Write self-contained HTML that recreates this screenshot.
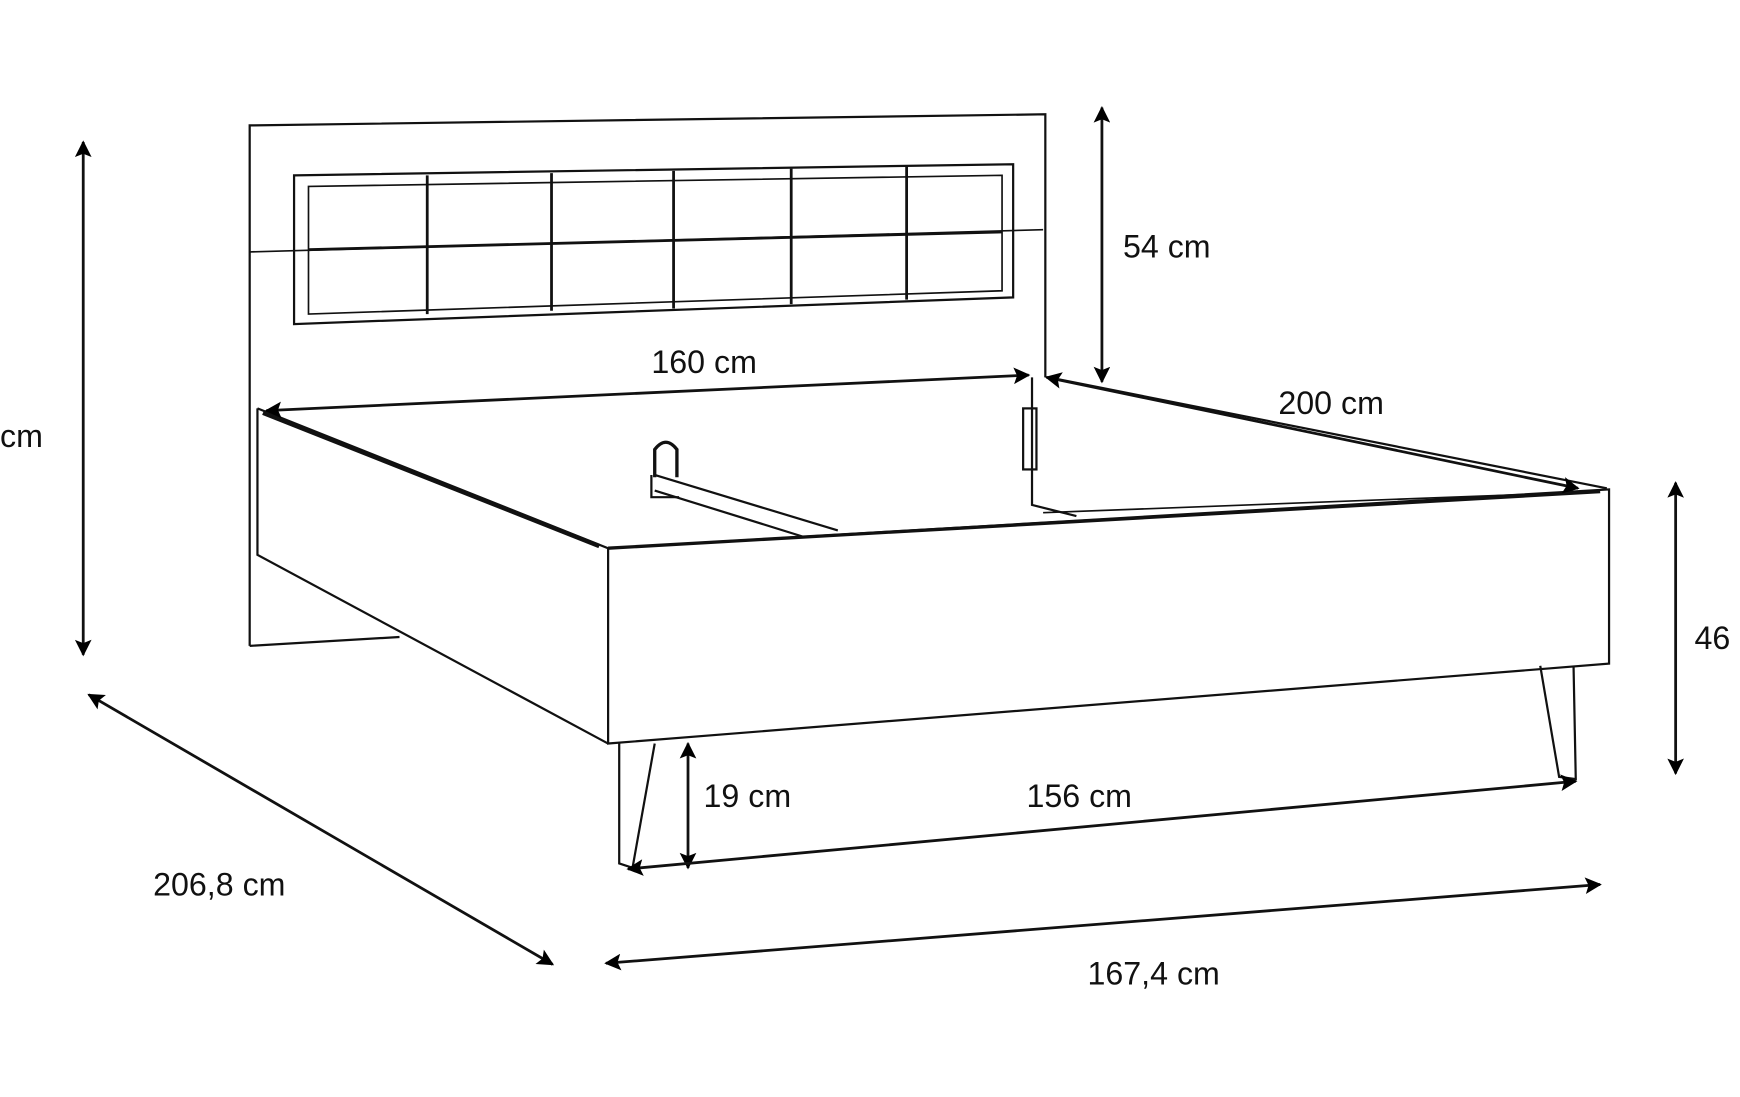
<!DOCTYPE html>
<html><head><meta charset="utf-8"><style>html,body{margin:0;padding:0;background:#fff}svg{display:block}</style></head>
<body>
<svg width="1740" height="1097" viewBox="0 0 1568 988.5" preserveAspectRatio="none" xmlns="http://www.w3.org/2000/svg">
<defs>
<marker id="b" viewBox="0 0 10 10" refX="9" refY="5" markerWidth="26" markerHeight="15" orient="auto-start-reverse" markerUnits="userSpaceOnUse"><path d="M0,0 L10,5 L0,10 L2,5 z" fill="#000"/></marker>
</defs>
<g fill="none" stroke="#111" stroke-width="2">
<path d="M225,582 L225,113 L942,103 L942,340"/>
<path d="M225,582 L360,574"/>
<path d="M265,158 L913,148 L913,268 L265,292 Z"/>
<path d="M278,168 L903,158 L903,262 L278,283 Z" stroke-width="1.5"/>
<path d="M225,227 L940,207" stroke-width="1.5"/>
<path d="M278,225 L903,209" stroke-width="2.5"/>
<path d="M385,158 L385,283 M497,156 L497,280 M607,154 L607,278 M713,152 L713,274 M817,150 L817,270" stroke-width="2.5"/>
<path d="M232,368 L548,494 L1450,441 L1450,598 L548,670 L548,494"/>
<path d="M232,368 L232,500 L548,670"/>
<path d="M237,372 L540,492" stroke-width="4"/>
<path d="M548,494 L1442,443" stroke-width="3"/>
<path d="M930,340 L930,455 L970,465"/>
<path d="M945,340 L1448,440"/>
<path d="M940,462 L1440,443" stroke-width="1.5"/>
<path d="M590,428 L755,478 M590,442 L725,484" stroke-width="2"/>
<path d="M587,428 L587,448 L612,448" />
<path d="M590,430 L590,405 Q600,392 610,405 L610,430" stroke-width="3"/>
<rect x="922" y="368" width="12" height="55" stroke-width="2"/>
<path d="M558,670 L558,778 L570,782 L590,670"/>
<path d="M1388,600 L1405,700 L1420,702 L1418,600"/>
</g>
<g stroke="#111" stroke-width="2.5" fill="none">
<line x1="75" y1="128" x2="75" y2="590" marker-start="url(#b)" marker-end="url(#b)"/>
<line x1="993" y1="97" x2="993" y2="344" marker-start="url(#b)" marker-end="url(#b)"/>
<line x1="240" y1="370" x2="927" y2="338" marker-start="url(#b)" marker-end="url(#b)"/>
<line x1="943" y1="340" x2="1422" y2="440" marker-start="url(#b)" marker-end="url(#b)"/>
<line x1="1510" y1="435" x2="1510" y2="697" marker-start="url(#b)" marker-end="url(#b)"/>
<line x1="620" y1="670" x2="620" y2="782" marker-start="url(#b)" marker-end="url(#b)"/>
<line x1="566" y1="783" x2="1420" y2="704" marker-start="url(#b)" marker-end="url(#b)"/>
<line x1="80" y1="626" x2="498" y2="869" marker-start="url(#b)" marker-end="url(#b)"/>
<line x1="546" y1="868" x2="1442" y2="797" marker-start="url(#b)" marker-end="url(#b)"/>
</g>
<g font-family="Liberation Sans, sans-serif" font-size="29" fill="#111">
<text x="0" y="403">cm</text>
<text x="1012" y="232">54 cm</text>
<text x="587" y="336">160 cm</text>
<text x="1152" y="373">200 cm</text>
<text x="1527" y="585">46</text>
<text x="634" y="727">19 cm</text>
<text x="925" y="727">156 cm</text>
<text x="138" y="807">206,8 cm</text>
<text x="980" y="887">167,4 cm</text>
</g>
</svg>
</body></html>
